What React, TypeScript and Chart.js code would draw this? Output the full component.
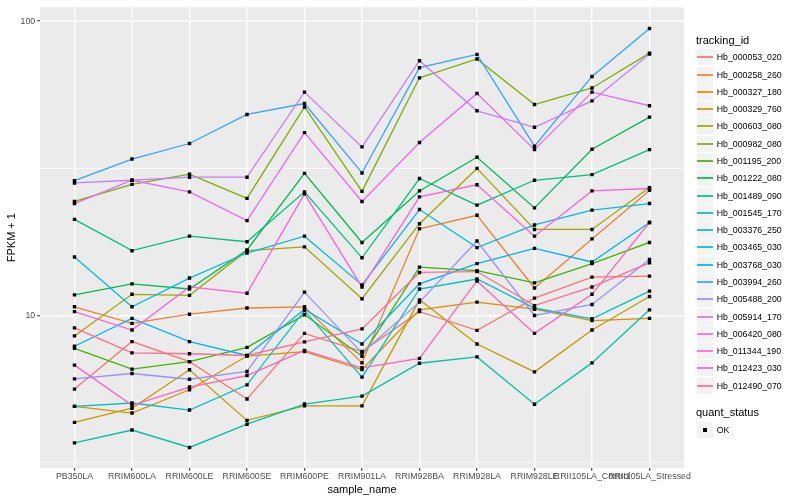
import React, { useEffect, useRef } from 'react';
import { Chart, registerables } from 'chart.js';

Chart.register(...registerables);

// ---- data ----
const samples = [
  'PB350LA', 'RRIM600LA', 'RRIM600LE', 'RRIM600SE', 'RRIM600PE', 'RRIM901LA',
  'RRIM928BA', 'RRIM928LA', 'RRIM928LE', 'RRII105LA_Control', 'RRII105LA_Stressed',
];

const trackingIds = [
  'Hb_000053_020', 'Hb_000258_260', 'Hb_000327_180', 'Hb_000329_760', 'Hb_000603_080',
  'Hb_000982_080', 'Hb_001195_200', 'Hb_001222_080', 'Hb_001489_090', 'Hb_001545_170',
  'Hb_003376_250', 'Hb_003465_030', 'Hb_003768_030', 'Hb_003994_260', 'Hb_005488_200',
  'Hb_005914_170', 'Hb_006420_080', 'Hb_011344_190', 'Hb_012423_030', 'Hb_012490_070',
];

const seriesColors = [
  '#F8766D', '#EA8331', '#D89000', '#C09B00', '#A3A500',
  '#7CAE00', '#39B600', '#00BB4E', '#00BF7D', '#00C1A3',
  '#00BFC4', '#00BAE0', '#00B0F6', '#35A2FF', '#9590FF',
  '#C77CFF', '#E76BF3', '#FA62DB', '#FF62BC', '#FF6C91',
];

// FPKM + 1 per sample (order of `samples`)
const hb000053_020 = [5.62, 8.15, 6.97, 5.20, 8.69, 7.54, 10.3, 8.90, 11.45, 13.5, 13.6];
const hb000258_260 = [10.7, 9.40, 10.1, 10.6, 10.7, 6.90, 19.7, 21.9, 12.4, 18.2, 26.6];
const hb000327_180 = [4.91, 4.66, 5.59, 7.28, 7.54, 6.55, 10.45, 11.1, 10.5, 9.60, 9.77];
const hb000329_760 = [4.33, 4.84, 6.54, 4.40, 4.93, 4.93, 11.3, 8.0, 6.43, 8.92, 11.6];
const hb000603_080 = [8.52, 11.8, 11.7, 16.6, 17.1, 11.4, 20.5, 31.6, 19.6, 19.6, 27.2];
const hb000982_080 = [24.4, 27.9, 30.2, 25.0, 51.1, 26.4, 64.2, 74.4, 52.1, 59.3, 77.9];
const hb001195_200 = [7.73, 6.57, 6.97, 7.79, 10.05, 7.27, 14.6, 14.2, 12.9, 15.0, 17.7];
const hb001222_080 = [11.75, 12.8, 12.3, 16.7, 30.4, 17.7, 26.5, 34.5, 23.2, 36.7, 47.2];
const hb001489_090 = [21.2, 16.6, 18.6, 17.8, 26.3, 15.7, 29.2, 23.7, 28.8, 30.1, 36.6];
const hb001545_170 = [3.69, 4.08, 3.56, 4.27, 5.00, 5.32, 6.88, 7.23, 4.99, 6.90, 10.45];
const hb003376_250 = [4.91, 5.04, 4.77, 5.81, 10.4, 6.17, 12.3, 13.3, 10.6, 9.74, 12.1];
const hb003465_030 = [15.8, 10.7, 13.4, 16.3, 18.6, 12.7, 22.9, 17.0, 20.3, 22.8, 24.0];
const hb003768_030 = [7.86, 9.77, 8.15, 7.31, 10.5, 8.0, 12.8, 15.0, 16.9, 15.2, 20.7];
const hb003994_260 = [28.7, 34.0, 38.4, 48.2, 52.5, 30.5, 69.5, 77.1, 37.6, 64.9, 94.4];
const hb005488_200 = [6.09, 6.35, 6.07, 6.45, 12.0, 7.46, 11.1, 17.9, 10.0, 10.9, 15.5];
const hb005914_170 = [28.2, 28.8, 29.5, 29.5, 57.4, 37.4, 73.4, 49.6, 43.6, 53.6, 77.4];
const hb006420_080 = [24.0, 28.8, 26.3, 21.0, 41.8, 24.4, 38.7, 56.8, 36.6, 57.4, 51.6];
const hb011344_190 = [10.3, 8.92, 12.5, 11.9, 25.9, 12.5, 25.3, 27.8, 18.6, 26.5, 27.0];
const hb012423_030 = [6.78, 4.95, 5.71, 6.25, 7.61, 6.64, 7.15, 13.1, 8.69, 11.8, 20.7];
const hb012490_070 = [9.07, 7.46, 7.41, 7.31, 8.13, 9.0, 14.0, 14.1, 10.8, 12.5, 15.1];

const seriesValues = [
  hb000053_020, hb000258_260, hb000327_180, hb000329_760, hb000603_080,
  hb000982_080, hb001195_200, hb001222_080, hb001489_090, hb001545_170,
  hb003376_250, hb003465_030, hb003768_030, hb003994_260, hb005488_200,
  hb005914_170, hb006420_080, hb011344_190, hb012423_030, hb012490_070,
];

const yMajorTicks = [10, 100];
const yMinorTicks = [3.1623, 31.623];
const quantStatus = ['OK'];

const FONT = '"Liberation Sans", Arial, Helvetica, sans-serif';

const panelBg = {
  id: 'panelBg',
  beforeDraw(chart: any) {
    const { ctx, chartArea } = chart;
    if (!chartArea) return;
    ctx.save();
    ctx.fillStyle = '#EBEBEB';
    ctx.fillRect(chartArea.left, chartArea.top, chartArea.right - chartArea.left, chartArea.bottom - chartArea.top);
    ctx.restore();
  },
};

export default function App() {
  const canvasRef = useRef<HTMLCanvasElement | null>(null);

  useEffect(() => {
    document.body.style.margin = '0';
    const canvas = canvasRef.current;
    if (!canvas) return;

    const lineSets = seriesValues.map((vals, i) => ({
      label: trackingIds[i],
      data: vals.map((v, j) => ({ x: j, y: v })),
      borderColor: seriesColors[i],
      backgroundColor: seriesColors[i],
      borderWidth: 1.3,
      pointRadius: 0,
      fill: false,
      tension: 0,
      order: 100 - i,
    }));
    const pointSets = seriesValues.map((vals, i) => ({
      label: trackingIds[i] + ' pts',
      data: vals.map((v, j) => ({ x: j, y: v })),
      showLine: false,
      pointStyle: 'rect',
      pointRadius: 2.4,
      pointBorderWidth: 0,
      pointBackgroundColor: '#000000',
      borderColor: '#000000',
      order: 0,
    }));

    const allY = [...yMinorTicks, ...yMajorTicks].sort((a, b) => a - b);

    const chart = new Chart(canvas, {
      type: 'line',
      data: { datasets: [...lineSets, ...pointSets] as any },
      options: {
        animation: false,
        responsive: false,
        events: [],
        layout: { padding: { left: 0, right: 116, top: 5, bottom: 0 } },
        plugins: { legend: { display: false }, tooltip: { enabled: false } },
        scales: {
          x: {
            type: 'linear',
            min: -0.6,
            max: samples.length - 0.4,
            afterBuildTicks: (scale: any) => {
              scale.ticks = samples.map((_, i) => ({ value: i }));
            },
            afterFit: (scale: any) => {
              scale.height = 32;
            },
            border: { display: false },
            grid: {
              color: '#FFFFFF',
              lineWidth: 1.4,
              drawTicks: true,
              tickLength: 2.75,
              tickColor: '#333333',
              tickWidth: 1.1,
            },
            ticks: {
              autoSkip: false,
              maxRotation: 0,
              minRotation: 0,
              padding: 1,
              color: '#4D4D4D',
              font: { family: FONT, size: 8.8 },
              callback: (v: any) => samples[Math.round(Number(v))] ?? '',
            },
            title: {
              display: true,
              text: 'sample_name',
              color: '#000000',
              font: { family: FONT, size: 11 },
              padding: { top: 0, bottom: 3 },
            },
          },
          y: {
            type: 'logarithmic',
            min: 3.031,
            max: 111.5,
            afterBuildTicks: (scale: any) => {
              scale.ticks = allY.map((v) => ({ value: v }));
            },
            afterFit: (scale: any) => {
              scale.width = 40;
            },
            border: { display: false },
            grid: {
              color: '#FFFFFF',
              lineWidth: (ctx: any) => (yMajorTicks.includes(ctx.tick?.value) ? 1.4 : 0.7),
              drawTicks: true,
              tickLength: 2.75,
              tickColor: (ctx: any) => (yMajorTicks.includes(ctx.tick?.value) ? '#333333' : 'rgba(0,0,0,0)'),
              tickWidth: 1.1,
            },
            ticks: {
              autoSkip: false,
              padding: 2,
              color: '#4D4D4D',
              font: { family: FONT, size: 8.8 },
              callback: (v: any) => (yMajorTicks.includes(Number(v)) ? String(v) : ''),
            },
            title: {
              display: true,
              text: 'FPKM + 1',
              color: '#000000',
              font: { family: FONT, size: 11 },
              padding: { top: 5, bottom: 0 },
            },
          },
        },
      } as any,
      plugins: [panelBg],
    });

    return () => chart.destroy();
  }, []);

  const keySize = 17.28;
  const legendTop = 49.3;

  const keyBox = (top: number, child: React.ReactNode) => (
    <div
      style={{
        position: 'absolute', left: 697, top, width: 16, height: 16,
        background: '#F2F2F2',
      }}
    >
      {child}
    </div>
  );

  return (
    <div style={{ position: 'relative', width: 800, height: 500, fontFamily: FONT, background: '#FFFFFF' }}>
      <canvas ref={canvasRef} width={800} height={500} style={{ position: 'absolute', left: 0, top: 0 }} />
      <div style={{ position: 'absolute', left: 696, top: 33, fontSize: 11, lineHeight: '14px', color: '#000' }}>
        tracking_id
      </div>
      {trackingIds.map((id, i) => {
        const top = Math.round(legendTop + keySize * i);
        return (
          <React.Fragment key={id}>
            {keyBox(
              top,
              <div
                style={{
                  position: 'absolute', left: 0, width: 16, top: 7, height: 2,
                  background: seriesColors[i], opacity: 0.85,
                }}
              />,
            )}
            <div
              style={{
                position: 'absolute', left: 716.7, top: top + 2, fontSize: 8.8,
                lineHeight: '12px', color: '#000', whiteSpace: 'nowrap',
              }}
            >
              {id}
            </div>
          </React.Fragment>
        );
      })}
      <div style={{ position: 'absolute', left: 696, top: 405, fontSize: 11, lineHeight: '14px', color: '#000' }}>
        quant_status
      </div>
      {quantStatus.map((q, i) => {
        const top = Math.round(421.7 + keySize * i);
        return (
          <React.Fragment key={q}>
            {keyBox(
              top,
              <div
                style={{
                  position: 'absolute', left: 6, top: 6, width: 4, height: 4,
                  background: '#000',
                }}
              />,
            )}
            <div
              style={{
                position: 'absolute', left: 716.7, top: top + 2, fontSize: 8.8,
                lineHeight: '12px', color: '#000',
              }}
            >
              {q}
            </div>
          </React.Fragment>
        );
      })}
    </div>
  );
}
